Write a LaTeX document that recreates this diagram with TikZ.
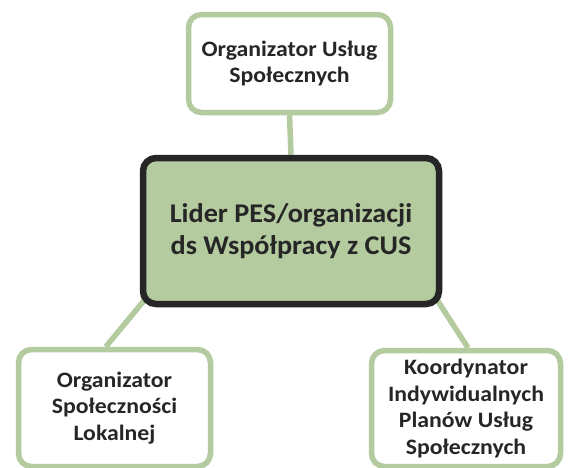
\documentclass[tikz,border=0pt]{standalone}
\usepackage{fontspec}
\setmainfont{Carlito}
\newfontfamily\rolefont[FakeStretch=1.08]{Carlito}
\newfontfamily\leadfont[FakeStretch=1.045]{Carlito}
\usetikzlibrary{calc,backgrounds}
\definecolor{leaf}{HTML}{B4CA9F}
\definecolor{ink}{HTML}{262626}
\tikzset{
  rolebox/.style={draw=leaf, line width=5.5pt, fill=white, rounded corners=13pt,
    inner sep=0pt, align=center, text=ink,
    font=\rolefont\bfseries\fontsize{22}{26.5}\selectfont},
  leadbox/.style={draw=ink, line width=6.5pt, fill=leaf, rounded corners=13pt,
    inner sep=0pt, align=center, text=ink,
    font=\leadfont\bfseries\fontsize{27}{32}\selectfont},
  link/.style={draw=leaf, line width=5.5pt}
}
\begin{document}
\begin{tikzpicture}[x=1pt,y=-1pt]
  \useasboundingbox (0,0) rectangle (568,467);
  \clip (0,0) rectangle (568,467);

  % boxes
  \node[leadbox, minimum width=296pt, minimum height=146pt] (lead) at (291,231)
    {Lider PES/organizacji\\ds Współpracy z CUS};
  \node[rolebox, minimum width=202pt, minimum height=98pt] (top) at (289.5,63.5)
    {Organizator Usług\\Społecznych};
  \node[rolebox, minimum width=192pt, minimum height=117pt] (left) at (114.5,408)
    {Organizator\\Społeczności\\Lokalnej};
  \node[rolebox, minimum width=189pt, minimum height=116pt] (right) at (466,408.5)
    {Koordynator\\Indywidualnych\\Planów Usług\\Społecznych};

  % connectors behind the boxes
  \begin{scope}[on background layer]
    \fill[white] (0,0) rectangle (568,467);
    \coordinate (leadL) at ($(lead.south west)+(12,-16)$);
    \coordinate (leadR) at ($(lead.south east)+(-12,-18)$);
    \draw[link] (top.south) -- (lead.north);
    \draw[link] ($(left.north west)!0.456!(left.north east)$) -- (leadL);
    \draw[link] ($(right.north west)!0.51!(right.north east)$) -- (leadR);
  \end{scope}
\end{tikzpicture}
\end{document}
